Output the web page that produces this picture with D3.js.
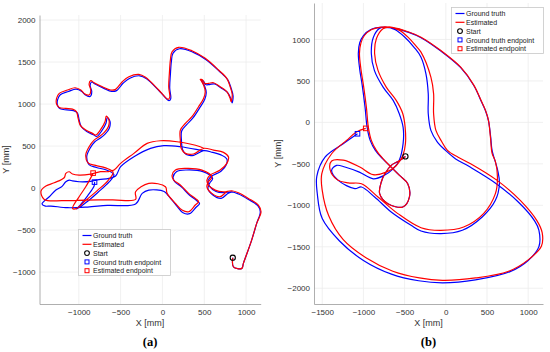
<!DOCTYPE html>
<html>
<head>
<meta charset="utf-8">
<script src="https://cdn.jsdelivr.net/npm/d3@7/dist/d3.min.js"></script>
<style>
  body { margin: 0; background: #fff; }
</style>
</head>
<body>
<svg id="chart" width="550" height="352" font-family="Liberation Sans, Arial, sans-serif"></svg>
<script>
// ---- panel (a) ----
const xTicksA = [-1000, -500, 0, 500, 1000];
const yTicksA = [-1000, -500, 0, 500, 1000, 1500, 2000];
// estimated path, null = pen up
const estA = [
  [841,-829],[849,-937],[949,-956],[968,-897],[1067,-619],[1127,-421],[1179,-282],[1147,-202],[1028,-123],[909,-56],[829,-32],[730,-44],[631,-24],[551,36],[532,95],[571,155],[690,214],[770,294],[790,370],[730,425],[611,452],[492,473],[373,405],[274,413],[225,470],[214,571],[214,690],[274,770],[353,849],[432,968],[492,1067],[512,1147],[492,1226],[464,1278],[452,1294],[480,1286],[504,1246],[551,1246],[611,1254],[690,1206],[770,1147],[810,1067],[821,1028],[835,1110],[810,1206],[770,1306],[671,1405],[512,1544],[353,1635],[194,1675],[115,1623],[95,1524],[83,1365],[75,1206],[87,1079],[67,1056],[-44,1167],[-202,1318],[-282,1353],[-401,1325],[-480,1266],[-560,1175],[-619,1167],[-718,1206],[-817,1254],[-857,1278],[-877,1238],[-857,1167],[-877,1107],[-937,1127],[-976,1167],[-1044,1194],[-1135,1167],[-1234,1127],[-1266,1067],[-1266,1000],[-1234,960],[-1155,948],[-1075,940],[-1028,909],[-1008,829],[-984,750],[-917,690],[-837,651],[-798,631],[-738,698],[-687,790],[-671,857],[-639,810],[-647,730],[-698,659],[-758,611],[-817,571],[-877,492],[-917,393],[-890,300],[-800,270],[-680,240],[-590,190],[-650,90],[-780,-30],[-920,-150],[-1030,-245],[-1075,-242],[-996,-103],[-917,15],[-829,175],
  null,
  [492,473],[452,492],[175,551],[-24,563],[-183,532],[-341,413],[-500,294],[-579,214],[-650,195],[-740,195],[-857,167],[-996,155],[-1075,167],[-1115,194],[-1155,175],[-1175,123],[-1294,63],[-1393,24],[-1452,-36],[-1413,-135],[-1194,-150],[-917,-143],[-599,-140],[-321,-135],[-321,-44],[-163,56],[36,15],[56,-63],[155,-182],[234,-262],[313,-282],[393,-202],[432,-163],[393,-123],[313,-63],[214,36],[135,95],[115,150],[155,214],[274,234],[472,214],[591,135],[551,75],[532,15],[591,-63],[690,-103],[770,-44],[829,-32]
];
const truthA = [
  [841,-829],[849,-937],[949,-956],[968,-897],[1067,-619],[1127,-421],[1170,-282],[1140,-210],[1028,-135],[909,-70],[829,-45],[730,-55],[640,-40],[565,20],[545,85],[585,140],[700,200],[765,280],[770,345],[700,395],[600,425],[492,445],[373,390],[285,400],[240,460],[228,560],[230,680],[290,755],[365,835],[445,955],[505,1055],[524,1135],[505,1212],[476,1262],[464,1280],[492,1272],[516,1232],[563,1232],[623,1240],[702,1192],[782,1133],[822,1053],[833,1014],[845,1095],[820,1192],[780,1290],[681,1390],[522,1528],[363,1618],[204,1658],[127,1607],[107,1508],[95,1350],[87,1190],[99,1063],[79,1040],[-32,1150],[-190,1300],[-270,1336],[-390,1308],[-468,1250],[-548,1160],[-607,1150],[-706,1190],[-805,1238],[-845,1262],[-865,1222],[-845,1150],[-865,1090],[-925,1110],[-964,1150],[-1032,1177],[-1123,1150],[-1222,1110],[-1254,1050],[-1254,983],[-1222,943],[-1143,930],[-1063,922],[-1016,892],[-996,812],[-972,733],[-905,673],[-825,634],[-786,614],[-726,680],[-675,772],[-659,840],[-627,793],[-635,713],[-686,642],[-746,594],[-805,554],[-865,475],[-905,376],[-878,280],[-790,245],[-670,215],[-580,160],[-640,70],[-770,-50],[-910,-170],[-1024,-250],[-976,-194],[-897,-95],[-817,24],[-812,71],
  null,
  [492,445],[452,452],[214,492],[16,504],[-143,473],[-341,373],[-500,254],[-560,143],[-640,115],[-760,100],[-857,80],[-996,75],[-1075,85],[-1115,95],[-1155,75],[-1200,20],[-1274,-24],[-1353,-103],[-1440,-190],[-1400,-215],[-1333,-214],[-1135,-234],[-897,-226],[-659,-206],[-321,-190],[-242,-63],[-163,-24],[20,-40],[70,-90],[165,-205],[246,-294],[325,-305],[405,-225],[444,-185],[405,-145],[325,-85],[226,15],[147,75],[127,130],[167,195],[286,215],[484,195],[600,115],[563,55],[544,-5],[603,-83],[702,-123],[782,-64],[829,-45]
];
const startA = [841, -829];
const truthEndA = [-812, 71];
const estEndA = [-829, 178];

// ---- panel (b) ----
const xTicksB = [-1500, -1000, -500, 0, 500, 1000];
const yTicksB = [-2000, -1500, -1000, -500, 0, 500, 1000];
const estB = [
  [-490,-410],[-560,-460],[-663,-518],[-740,-620],[-783,-719],[-803,-859],[-703,-980],[-522,-1020],[-442,-900],[-462,-739],[-562,-639],[-663,-540],[-760,-440],[-843,-337],[-904,-217],[-940,-60],[-964,181],[-1000,450],[-1030,640],[-1048,831],[-1030,960],[-988,1048],[-900,1120],[-783,1150],[-650,1145],[-450,1090],[-301,1028],[-60,867],[181,666],[340,450],[430,260],[482,145],[518,24],[542,-177],[562,-373],[602,-470],[627,-659],[602,-859],[458,-1100],[217,-1261],[-60,-1301],[-301,-1270],[-582,-1100],[-823,-900],[-1024,-740],[-1184,-730],[-1320,-690],[-1405,-570],[-1386,-465],[-1245,-455],[-1044,-538],[-883,-630],[-723,-600],[-600,-520],[-522,-400],[-490,-257],[-494,-56],[-522,104],[-602,265],[-723,426],[-823,627],[-864,828],[-843,1008],[-763,1129],[-680,1150],[-560,1110],[-450,1020],[-360,920],[-301,847],[-181,546],[-148,345],[-148,104],[-120,-96],[-50,-230],[20,-337],[150,-420],[301,-498],[623,-699],[904,-940],[1104,-1181],[1170,-1330],[1160,-1494],[1004,-1655],[763,-1795],[361,-1876],[-40,-1904],[-321,-1876],[-643,-1795],[-964,-1635],[-1245,-1414],[-1420,-1130],[-1500,-820],[-1506,-620],[-1386,-378],[-1205,-217],[-1084,-116],[-972,-72]
];
const truthB = [
  [-490,-410],[-560,-460],[-663,-518],[-740,-620],[-783,-719],[-803,-859],[-703,-980],[-522,-1020],[-442,-900],[-462,-739],[-562,-639],[-663,-540],[-765,-440],[-855,-337],[-918,-217],[-955,-60],[-980,181],[-1015,450],[-1045,640],[-1062,831],[-1045,960],[-1000,1048],[-910,1120],[-790,1145],[-650,1140],[-450,1085],[-301,1022],[-60,860],[181,660],[340,445],[430,255],[482,140],[518,20],[545,-177],[562,-337],[630,-578],[651,-739],[602,-940],[442,-1141],[201,-1301],[-60,-1341],[-301,-1310],[-422,-1241],[-663,-1080],[-864,-900],[-1024,-779],[-1104,-799],[-1305,-699],[-1386,-578],[-1325,-518],[-1225,-538],[-1050,-600],[-880,-680],[-750,-640],[-640,-560],[-566,-458],[-518,-253],[-518,-60],[-566,108],[-639,265],[-759,422],[-867,627],[-904,831],[-880,1024],[-807,1132],[-740,1150],[-620,1120],[-500,1030],[-380,900],[-301,787],[-241,586],[-213,345],[-213,104],[-181,-96],[-100,-240],[0,-340],[120,-440],[280,-530],[600,-730],[880,-960],[1080,-1190],[1130,-1300],[1130,-1500],[1000,-1665],[780,-1800],[360,-1900],[-40,-1935],[-330,-1910],[-660,-1830],[-1000,-1665],[-1290,-1430],[-1500,-1160],[-1560,-860],[-1566,-650],[-1466,-418],[-1245,-257],[-1072,-137]
];
const startB = [-490, -410];
const truthEndB = [-1072, -137];
const estEndB = [-972, -72];

const legendLabels = ["Ground truth", "Estimated", "Start", "Ground truth endpoint", "Estimated endpoint"];

const blue = "#0000ff", red = "#ff0000";
const svg = d3.select("#chart");

function drawPanel(cfg) {
  const g = svg.append("g");
  const x = d3.scaleLinear().domain(cfg.xDomain).range(cfg.xRange);
  const y = d3.scaleLinear().domain(cfg.yDomain).range(cfg.yRange);

  // grid
  g.selectAll(".gx").data(cfg.xTicks).enter().append("line")
    .attr("x1", d => x(d)).attr("x2", d => x(d))
    .attr("y1", cfg.yRange[0]).attr("y2", cfg.yRange[1])
    .attr("stroke", "#ececec").attr("stroke-width", 0.8);
  g.selectAll(".gy").data(cfg.yTicks).enter().append("line")
    .attr("y1", d => y(d)).attr("y2", d => y(d))
    .attr("x1", cfg.xRange[0]).attr("x2", cfg.xRange[1])
    .attr("stroke", "#ececec").attr("stroke-width", 0.8);

  const fmt = d3.format("d");
  const xAxis = g.append("g").attr("transform", `translate(0,${cfg.yRange[0]})`)
    .call(d3.axisBottom(x).tickValues(cfg.xTicks).tickSize(0).tickPadding(5).tickFormat(fmt));
  const yAxis = g.append("g").attr("transform", `translate(${cfg.xRange[0]},0)`)
    .call(d3.axisLeft(y).tickValues(cfg.yTicks).tickSize(0).tickPadding(4).tickFormat(fmt));
  [xAxis, yAxis].forEach(a => {
    a.attr("font-family", "Liberation Sans, Arial, sans-serif").attr("font-size", 8);
    a.select(".domain").attr("stroke", "#9a9a9a").attr("stroke-width", 0.8);
    a.selectAll("text").attr("fill", "#333");
  });

  const line = d3.line().defined(d => d !== null)
    .x(d => x(d[0])).y(d => y(d[1]))
    .curve(d3.curveCatmullRom.alpha(0.5));
  g.append("path").datum(cfg.truth).attr("d", line)
    .attr("fill", "none").attr("stroke", blue).attr("stroke-width", 1.2);
  g.append("path").datum(cfg.est).attr("d", line)
    .attr("fill", "none").attr("stroke", red).attr("stroke-width", 1.2);

  g.append("circle").attr("cx", x(cfg.start[0])).attr("cy", y(cfg.start[1])).attr("r", 2.6)
    .attr("fill", "none").attr("stroke", "#000").attr("stroke-width", 1.1);
  [[cfg.truthEnd, blue], [cfg.estEnd, red]].forEach(([p, c]) => {
    g.append("rect").attr("x", x(p[0]) - 2.3).attr("y", y(p[1]) - 2.3)
      .attr("width", 4.6).attr("height", 4.6)
      .attr("fill", "none").attr("stroke", c).attr("stroke-width", 1);
  });

  // axis titles
  const cx = (cfg.xRange[0] + cfg.xRange[1]) / 2;
  const cy = (cfg.yRange[0] + cfg.yRange[1]) / 2;
  g.append("text").attr("x", cx).attr("y", cfg.yRange[0] + 22).attr("text-anchor", "middle")
    .attr("font-size", 9).attr("fill", "#333").text("X [mm]");
  g.append("text").attr("transform", `translate(${cfg.yLabelX},${cy}) rotate(-90)`)
    .attr("text-anchor", "middle").attr("font-size", 9).attr("fill", "#333").text("Y [mm]");
  g.append("text").attr("x", cx).attr("y", 346).attr("text-anchor", "middle")
    .attr("font-family", "Liberation Serif, DejaVu Serif, serif").attr("font-weight", "bold")
    .attr("font-size", 12.5).attr("fill", "#000").text(cfg.tag);

  // legend
  const lg = g.append("g").attr("transform", `translate(${cfg.legend[0]},${cfg.legend[1]})`);
  lg.append("rect").attr("width", 92).attr("height", 46)
    .attr("fill", "#fff").attr("stroke", "#c8c8c8").attr("stroke-width", 0.8);
  legendLabels.forEach((t, i) => {
    const ry = 6 + i * 8.8;
    const row = lg.append("g").attr("transform", `translate(0,${ry})`);
    if (i < 2) {
      row.append("line").attr("x1", 4).attr("x2", 13).attr("y1", 0).attr("y2", 0)
        .attr("stroke", i === 0 ? blue : red).attr("stroke-width", 1.2);
    } else if (i === 2) {
      row.append("circle").attr("cx", 8.5).attr("cy", 0).attr("r", 2.4)
        .attr("fill", "none").attr("stroke", "#000").attr("stroke-width", 1.1);
    } else {
      row.append("rect").attr("x", 6.5).attr("y", -2).attr("width", 4).attr("height", 4)
        .attr("fill", "none").attr("stroke", i === 3 ? blue : red).attr("stroke-width", 1);
    }
    row.append("text").attr("x", 14.5).attr("y", 2.6).attr("font-size", 7)
      .attr("fill", "#222").text(t);
  });
}

drawPanel({
  xDomain: [-1470, 1175], xRange: [39.5, 260.7],
  yDomain: [-1380, 2060], yRange: [304, 15],
  xTicks: xTicksA, yTicks: yTicksA,
  truth: truthA, est: estA, start: startA, truthEnd: truthEndA, estEnd: estEndA,
  legend: [78.5, 229.5], yLabelX: 9, tag: "(a)"
});
drawPanel({
  xDomain: [-1600, 1180], xRange: [314, 543],
  yDomain: [-2190, 1440], yRange: [304, 3],
  xTicks: xTicksB, yTicks: yTicksB,
  truth: truthB, est: estB, start: startB, truthEnd: truthEndB, estEnd: estEndB,
  legend: [451.5, 7.5], yLabelX: 281, tag: "(b)"
});
</script>
</body>
</html>
